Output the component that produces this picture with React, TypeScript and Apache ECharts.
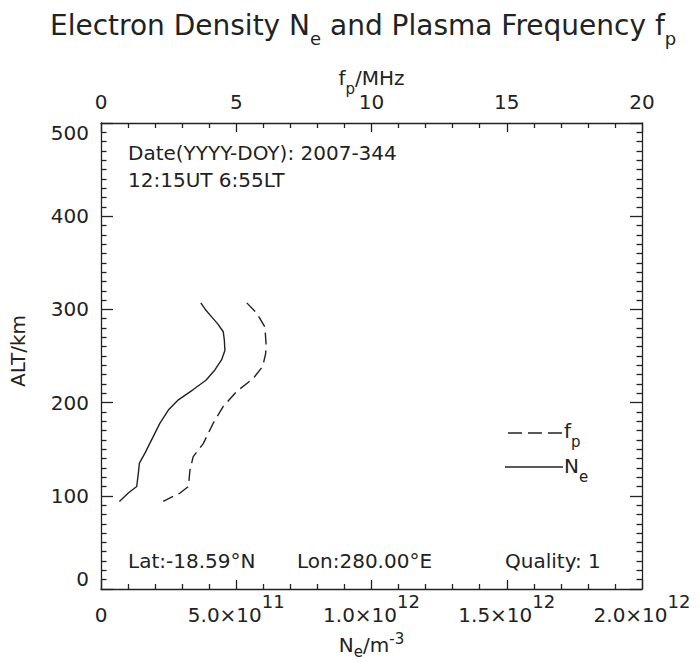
import React, { useEffect, useRef } from "react";
import * as echarts from "echarts";

// Altitude (km) and electron density (units of 1e11 m^-3)
const altNe = [307, 299, 292, 285, 276, 267, 256, 246, 235, 224, 214, 203, 192, 178, 160, 146, 135, 124, 110, 103, 94];
const neE11 = [3.69, 3.88, 4.09, 4.3, 4.52, 4.56, 4.58, 4.46, 4.21, 3.88, 3.41, 2.86, 2.49, 2.18, 1.87, 1.63, 1.42, 1.38, 1.32, 1.01, 0.68];

// Altitude (km) and plasma frequency (MHz)
const altFp = [307, 296, 281, 264, 253, 239, 226, 212, 196, 178, 156, 142, 128, 110, 103, 94];
const fpMHz = [5.39, 5.76, 6.06, 6.1, 6.09, 5.98, 5.63, 5.02, 4.52, 4.15, 3.78, 3.41, 3.29, 3.23, 2.92, 2.3];

// Bottom axis tick labels (mantissa and exponent)
const neTickMantissa = ["0", "5.0×10", "1.0×10", "1.5×10", "2.0×10"];
const neTickExponent = ["", "11", "12", "12", "12"];

const FONT = "DejaVu Sans";
const INK = "#222222";

export default function App() {
  const ref = useRef<HTMLDivElement>(null);

  useEffect(() => {
    if (!ref.current) return;
    const chart = echarts.init(ref.current, null, { renderer: "svg" });

    const neData = altNe.map((a, i) => [neE11[i] * 1e11, a]);
    const fpData = altFp.map((a, i) => [fpMHz[i], a]);

    const line = { color: INK, width: 1.3 };
    const base = { fontFamily: FONT, color: INK, fontWeight: "normal" };

    const option: any = {
      animation: false,
      backgroundColor: "#ffffff",
      title: {
        text: "{b|Electron Density N}{sub|e}{b| and Plasma Frequency f}{sub|p}",
        left: 45,
        top: -2,
        textStyle: {
          fontWeight: "normal",
          rich: {
            b: { ...base, fontSize: 28, lineHeight: 44, verticalAlign: "middle" },
            sub: { ...base, fontSize: 18, lineHeight: 22, verticalAlign: "bottom" },
          },
        },
      },
      grid: {
        left: 101,
        right: 58,
        top: 123,
        bottom: 73,
        containLabel: false,
        outerBoundsMode: "none",
      },
      xAxis: [
        {
          type: "value",
          position: "bottom",
          min: 0,
          max: 2e12,
          interval: 5e11,
          name: "{b|N}{sub|e}{b|/m}{sup|-3}",
          nameLocation: "middle",
          nameGap: 42,
          nameMoveOverlap: false,
          nameTextStyle: {
            rich: {
              b: { ...base, fontSize: 20, lineHeight: 28, verticalAlign: "middle" },
              sub: { ...base, fontSize: 15, lineHeight: 10, verticalAlign: "bottom" },
              sup: { ...base, fontSize: 15, lineHeight: 10, verticalAlign: "top" },
            },
          },
          axisLine: { show: true, onZero: false, lineStyle: line },
          axisTick: { show: true, inside: true, length: 9, lineStyle: line },
          minorTick: { show: true, splitNumber: 5, length: 5, lineStyle: line },
          splitLine: { show: false },
          minorSplitLine: { show: false },
          axisLabel: {
            margin: 3,
            formatter: (v: number) => {
              const i = Math.round(v / 5e11);
              if (!neTickExponent[i]) return "{z|" + neTickMantissa[i] + "}";
              return "{b|" + neTickMantissa[i] + "}{s|" + neTickExponent[i] + "}";
            },
            rich: {
              z: { ...base, fontSize: 20, lineHeight: 46, verticalAlign: "middle" },
              b: { ...base, fontSize: 20, lineHeight: 46, verticalAlign: "middle" },
              s: { ...base, fontSize: 18, lineHeight: 18, verticalAlign: "top" },
            },
          },
        },
        {
          type: "value",
          position: "top",
          min: 0,
          max: 20,
          interval: 5,
          name: "{b|f}{sub|p}{b|/MHz}",
          nameLocation: "middle",
          nameGap: 27,
          nameMoveOverlap: false,
          nameTextStyle: {
            rich: {
              b: { ...base, fontSize: 20, lineHeight: 36, verticalAlign: "middle" },
              sub: { ...base, fontSize: 15, lineHeight: 14, verticalAlign: "bottom" },
            },
          },
          axisLine: { show: true, onZero: false, lineStyle: line },
          axisTick: { show: true, inside: true, length: 9, lineStyle: line },
          minorTick: { show: true, splitNumber: 5, length: 5, lineStyle: line },
          splitLine: { show: false },
          minorSplitLine: { show: false },
          axisLabel: { ...base, fontSize: 20, margin: 11 },
        },
      ],
      yAxis: [
        {
          type: "value",
          position: "left",
          min: 0,
          max: 500,
          interval: 100,
          name: "ALT/km",
          nameLocation: "middle",
          nameRotate: 90,
          nameGap: 73,
          nameMoveOverlap: false,
          nameTextStyle: { ...base, fontSize: 20, padding: [0, 0, 0, 10] },
          axisLine: { show: true, onZero: false, lineStyle: line },
          axisTick: { show: true, inside: true, length: 12, lineStyle: line },
          minorTick: { show: true, splitNumber: 10, length: 5.5, lineStyle: line },
          splitLine: { show: false },
          minorSplitLine: { show: false },
          axisLabel: {
            ...base,
            fontSize: 20,
            margin: 12,
            verticalAlignMinLabel: "bottom",
            verticalAlignMaxLabel: "top",
          },
        },
        {
          type: "value",
          position: "right",
          min: 0,
          max: 500,
          interval: 100,
          axisLine: { show: true, onZero: false, lineStyle: line },
          axisTick: { show: true, inside: true, length: 12, lineStyle: line },
          minorTick: { show: true, splitNumber: 10, length: 5.5, lineStyle: line },
          splitLine: { show: false },
          minorSplitLine: { show: false },
          axisLabel: { show: false },
        },
      ],
      series: [
        {
          type: "line",
          name: "N_e",
          xAxisIndex: 0,
          yAxisIndex: 0,
          data: neData,
          symbol: "none",
          showSymbol: false,
          lineStyle: { color: INK, width: 1.4 },
        },
        {
          type: "line",
          name: "f_p",
          xAxisIndex: 1,
          yAxisIndex: 0,
          data: fpData,
          symbol: "none",
          showSymbol: false,
          lineStyle: { color: INK, width: 1.4, type: [12, 6] },
        },
      ],
      graphic: [
        {
          type: "text",
          left: 128,
          top: 143,
          style: { text: "Date(YYYY-DOY): 2007-344", font: `20px "${FONT}"`, fill: INK },
        },
        {
          type: "text",
          left: 128,
          top: 170,
          style: { text: "12:15UT 6:55LT", font: `20px "${FONT}"`, fill: INK },
        },
        {
          type: "text",
          left: 128,
          top: 551,
          style: { text: "Lat:-18.59°N", font: `20px "${FONT}"`, fill: INK },
        },
        {
          type: "text",
          left: 297,
          top: 551,
          style: { text: "Lon:280.00°E", font: `20px "${FONT}"`, fill: INK },
        },
        {
          type: "text",
          left: 505,
          top: 551,
          style: { text: "Quality: 1", font: `20px "${FONT}"`, fill: INK },
        },
        {
          type: "line",
          shape: { x1: 508, y1: 433, x2: 562, y2: 433 },
          style: { stroke: INK, lineWidth: 1.4, lineDash: [14, 6] },
        },
        {
          type: "text",
          x: 564,
          y: 431,
          style: {
            text: "{b|f}{sub|p}",
            verticalAlign: "middle",
            rich: {
              b: { fontFamily: FONT, fill: INK, fontSize: 20, lineHeight: 36, verticalAlign: "middle" },
              sub: { fontFamily: FONT, fill: INK, fontSize: 15, lineHeight: 14, verticalAlign: "bottom" },
            },
          },
        },
        {
          type: "line",
          shape: { x1: 505, y1: 467, x2: 563, y2: 467 },
          style: { stroke: INK, lineWidth: 1.4 },
        },
        {
          type: "text",
          x: 564,
          y: 466,
          style: {
            text: "{b|N}{sub|e}",
            verticalAlign: "middle",
            rich: {
              b: { fontFamily: FONT, fill: INK, fontSize: 20, lineHeight: 36, verticalAlign: "middle" },
              sub: { fontFamily: FONT, fill: INK, fontSize: 15, lineHeight: 14, verticalAlign: "bottom" },
            },
          },
        },
      ],
    };

    chart.setOption(option);
    return () => chart.dispose();
  }, []);

  return (
    <div
      ref={ref}
      style={{ position: "fixed", left: 0, top: 0, width: 700, height: 662 }}
    />
  );
}
